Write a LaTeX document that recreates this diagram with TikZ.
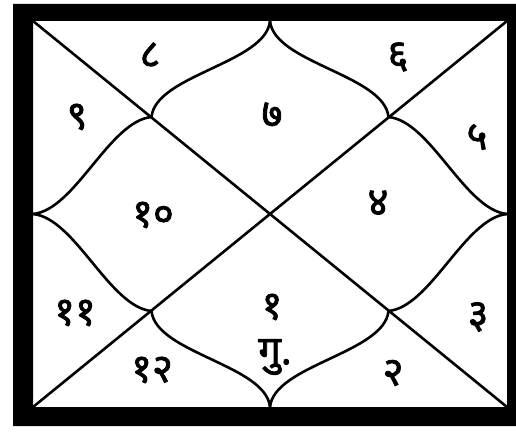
\documentclass[tikz,border=0pt]{standalone}
\usepackage{fontspec}
\newfontfamily\deva[Script=Devanagari,FakeBold=2]{Noto Sans}
\begin{document}
\begin{tikzpicture}[x=1pt,y=-1pt,line join=round,line cap=round,
  chartline/.style={line width=2.6pt},
  num/.style={font=\deva\fontsize{40}{42}\selectfont,inner sep=0pt}]
\useasboundingbox (0,0) rectangle (516,433);
\fill[white] (0,0) rectangle (516,433);
\fill[black,even odd rule] (13,4) rectangle (516,426) (33,21) rectangle (507,407);
\coordinate (TL) at (33,21);
\coordinate (TR) at (507,21);
\coordinate (BL) at (33,407);
\coordinate (BR) at (507,407);
\coordinate (T) at (270,21);
\coordinate (B) at (270,407);
\coordinate (L) at (33,214);
\coordinate (R) at (507,214);
\coordinate (Q1) at (151.5,117);
\coordinate (Q2) at (388.5,117);
\coordinate (Q3) at (151.5,311);
\coordinate (Q4) at (388.5,311);
\draw[chartline] (TL) -- (BR);
\draw[chartline] (TR) -- (BL);
\draw[chartline] (T) .. controls +(-4,42) and +(4,-42) .. (Q1);
\draw[chartline] (T) .. controls +(4,42) and +(-4,-42) .. (Q2);
\draw[chartline] (L) .. controls +(42,-4) and +(-42,4) .. (Q1);
\draw[chartline] (L) .. controls +(42,4) and +(-42,-4) .. (Q3);
\draw[chartline] (R) .. controls +(-42,-4) and +(42,4) .. (Q2);
\draw[chartline] (R) .. controls +(-42,4) and +(42,-4) .. (Q4);
\draw[chartline] (B) .. controls +(-4,-42) and +(4,42) .. (Q3);
\draw[chartline] (B) .. controls +(4,-42) and +(-4,42) .. (Q4);
\node[num] (n8) at (150,55) {८};
\node[num] (n6) at (398,57) {६};
\node[num] (n9) at (77,117) {९};
\node[num] (n7) at (272,115) {७};
\node[num] (n5) at (477,137) {५};
\node[num] (n10) at (153,215) {१०};
\node[num] (n4) at (378,203) {४};
\node[num] (n11) at (75,313) {११};
\node[num] (n3) at (478,317) {३};
\node[num] (n1) at (272,307) {१};
\node[num] (gu) at (275,357) {गु.};
\node[num] (n12) at (152,370) {१२};
\node[num] (n2) at (393,373) {२};
\end{tikzpicture}
\end{document}
